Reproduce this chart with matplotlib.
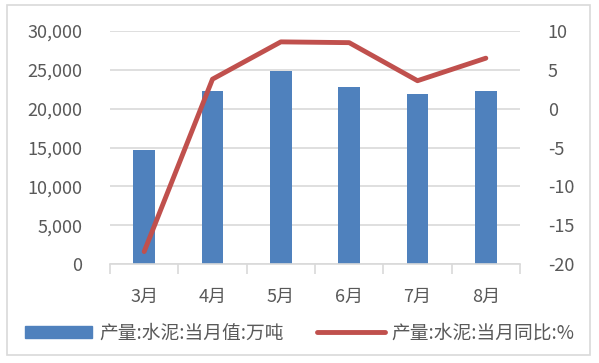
import matplotlib
matplotlib.use('Agg')
import matplotlib.pyplot as plt
from matplotlib.patches import Rectangle
from matplotlib.lines import Line2D
import numpy as np

plt.rcParams['font.family'] = ['Noto Sans CJK SC', 'DejaVu Sans']
plt.rcParams['axes.unicode_minus'] = False

# data
months = ['3月', '4月', '5月', '6月', '7月', '8月']
output = [14700, 22300, 24900, 22750, 21850, 22300]   # 产量:水泥:当月值:万吨
yoy = [-18.4, 3.8, 8.6, 8.5, 3.6, 6.5]                # 产量:水泥:当月同比:%

bar_color = '#4f81bd'
line_color = '#c0504d'
text_color = '#595959'
grid_color = '#d9d9d9'

W, H = 599, 363
fig = plt.figure(figsize=(W / 100, H / 100), dpi=100)

# outer frame
fig.patches.append(Rectangle((7 / W, 1 - 355 / H), 583 / W, 350 / H,
                             transform=fig.transFigure, fill=False,
                             edgecolor='#d9d9d9', lw=1.2))

ax = fig.add_axes([110 / W, 1 - 264 / H, 410 / W, 233 / H])
x = np.arange(len(months))
ax.bar(x, output, width=0.32, color=bar_color, zorder=2)
ax.set_xlim(-0.5, len(months) - 0.5)
ax.set_ylim(0, 30000)
ax.set_yticks(range(0, 30001, 5000))
ax.set_yticklabels(['{:,}'.format(v) for v in range(0, 30001, 5000)])
ax.grid(axis='y', color=grid_color, lw=1.2, zorder=0)
for s in ['top', 'right', 'left']:
    ax.spines[s].set_visible(False)
ax.spines['bottom'].set_color(grid_color)
ax.spines['bottom'].set_linewidth(1.2)
ax.set_xticks(x)
ax.set_xticklabels(months)
ax.set_xticks(np.arange(-0.5, len(months)), minor=True)
ax.tick_params(axis='x', which='major', length=0, pad=17, labelsize=13, labelcolor=text_color)
ax.tick_params(axis='x', which='minor', length=7, color=grid_color, width=1.2)
ax.tick_params(axis='y', length=0, pad=20, labelsize=13, labelcolor=text_color)

ax2 = ax.twinx()
ax2.plot(x, yoy, color=line_color, lw=3.5, solid_capstyle='round', zorder=3)
ax2.set_ylim(-20, 10)
ax2.set_yticks(range(-20, 11, 5))
for s in ['top', 'right', 'left', 'bottom']:
    ax2.spines[s].set_visible(False)
ax2.tick_params(axis='y', length=0, pad=20, labelsize=13, labelcolor=text_color)

handles = [Rectangle((0, 0), 1, 1, color=bar_color),
           Line2D([0], [0], color=line_color, lw=3.5, solid_capstyle='round')]
labels = ['产量:水泥:当月值:万吨', '产量:水泥:当月同比:%']
leg = fig.legend(handles, labels, loc='center', bbox_to_anchor=(0.5, 1 - 333 / H),
                 ncol=2, frameon=False, fontsize=13.5, handlelength=3.6,
                 handleheight=0.55, columnspacing=1.8, handletextpad=0.35)
for t in leg.get_texts():
    t.set_color(text_color)

fig.savefig('out.png', dpi=100)
